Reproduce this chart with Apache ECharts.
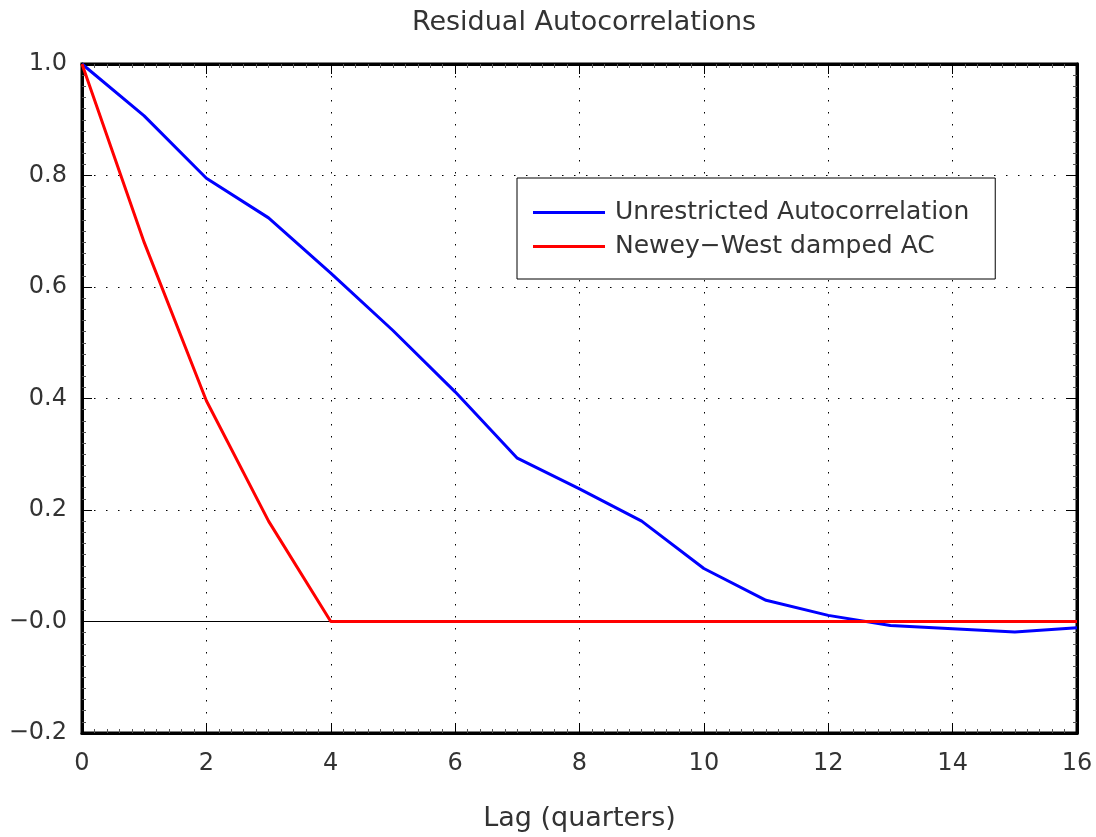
<!DOCTYPE html>
<html>
<head>
<meta charset="utf-8">
<script src="https://cdn.jsdelivr.net/npm/echarts@6/dist/echarts.min.js"></script>
<style>html,body{margin:0;padding:0;background:#fff;}#c{width:1096px;height:837px;}</style>
</head>
<body>
<div id="c"></div>
<script>
const lags = [0,1,2,3,4,5,6,7,8,9,10,11,12,13,14,15,16];
const unrestricted = [1.0,0.907,0.795,0.724,0.625,0.522,0.412,0.293,0.238,0.180,0.095,0.038,0.011,-0.007,-0.013,-0.019,-0.011];
const neweyWest = [1.0,0.68,0.396,0.180,0.0,0,0,0,0,0,0,0,0,0,0,0,0];
const yTickValues = [-0.2,0,0.2,0.4,0.6,0.8,1.0];
const yTickLabels = ['\u22120.2','\u22120.0','0.2','0.4','0.6','0.8','1.0'];
const xTickLabels = ['0','2','4','6','8','10','12','14','16'];
const seriesNames = ['Unrestricted Autocorrelation','Newey\u2212West damped AC'];
const titleText = 'Residual Autocorrelations';
const xName = 'Lag (quarters)';

const FONT = 'DejaVu Sans';
const TXT = '#333';
const chart = echarts.init(document.getElementById('c'), null, {renderer:'canvas'});

function yLabel(v){
  for (let i=0;i<yTickValues.length;i++){ if (Math.abs(v-yTickValues[i])<1e-9) return yTickLabels[i]; }
  return '';
}
function xLabel(v){
  const idx = xTickLabels.indexOf(String(Math.round(v)));
  return idx>=0 ? xTickLabels[idx] : '';
}
const dotted = {show:true, lineStyle:{color:'#000', width:1, type:[1.5,10.5]}};
const gridRect = {left:82, right:19, top:64, bottom:96};

chart.setOption({
  animation:false,
  backgroundColor:'#fff',
  title:{text:titleText, left:579, textAlign:'center', top:4,
    textStyle:{fontFamily:FONT, fontSize:27, fontWeight:'normal', color:TXT}},
  legend:{
    left:517, top:178, orient:'vertical',
    padding:[22,26,20,16], itemGap:9,
    itemWidth:72, itemHeight:3, icon:'rect',
    backgroundColor:'#fff', borderColor:'#000', borderWidth:1,
    textStyle:{fontFamily:FONT, fontSize:25, color:TXT, lineHeight:24, padding:[0,0,0,5]},
    data:seriesNames
  },
  grid:Object.assign({show:true, borderColor:'#000', borderWidth:3, backgroundColor:'transparent', containLabel:false}, gridRect),
  xAxis:[{
    type:'value', min:0, max:16, interval:2,
    name:xName, nameLocation:'middle', nameGap:72,
    nameTextStyle:{fontFamily:FONT, fontSize:27, color:TXT},
    axisLine:{show:true, onZero:false, lineStyle:{color:'#000', width:3}},
    axisTick:{show:true, inside:true, length:10, lineStyle:{color:'#000', width:1}},
    minorTick:{show:true, splitNumber:10, length:4, lineStyle:{color:'#555', width:1}},
    axisLabel:{formatter:xLabel, fontFamily:FONT, fontSize:24, color:TXT, margin:19},
    splitLine:dotted
  },{
    type:'value', min:0, max:16, interval:2, position:'top',
    axisLine:{show:true, onZero:false, lineStyle:{color:'#000', width:3}},
    axisTick:{show:true, inside:true, length:10, lineStyle:{color:'#000', width:1}},
    minorTick:{show:true, splitNumber:10, length:4, lineStyle:{color:'#555', width:1}},
    axisLabel:{show:false}, splitLine:{show:false}
  }],
  yAxis:[{
    type:'value', min:-0.2, max:1.0, interval:0.2,
    axisLine:{show:true, onZero:false, lineStyle:{color:'#000', width:3}},
    axisTick:{show:true, inside:true, length:10, lineStyle:{color:'#000', width:1}},
    minorTick:{show:true, splitNumber:10, length:4, lineStyle:{color:'#555', width:1}},
    axisLabel:{formatter:yLabel, fontFamily:FONT, fontSize:24, color:TXT, margin:15},
    splitLine:dotted
  },{
    type:'value', min:-0.2, max:1.0, interval:0.2, position:'right',
    axisLine:{show:true, onZero:false, lineStyle:{color:'#000', width:3}},
    axisTick:{show:true, inside:true, length:10, lineStyle:{color:'#000', width:1}},
    minorTick:{show:true, splitNumber:10, length:4, lineStyle:{color:'#555', width:1}},
    axisLabel:{show:false}, splitLine:{show:false}
  }],
  series:[{
    name:seriesNames[0], type:'line', symbol:'none',
    data:lags.map((l,i)=>[l,unrestricted[i]]),
    lineStyle:{color:'#0000ff', width:3}, itemStyle:{color:'#0000ff'},
    z:3,
    markLine:{silent:true, symbol:'none', label:{show:false},
      lineStyle:{color:'#000', width:1, type:'solid'}, z:1,
      data:[{yAxis:0}]}
  },{
    name:seriesNames[1], type:'line', symbol:'none',
    data:lags.map((l,i)=>[l,neweyWest[i]]),
    lineStyle:{color:'#ff0000', width:3}, itemStyle:{color:'#ff0000'},
    z:4
  }]
});
</script>
</body>
</html>
